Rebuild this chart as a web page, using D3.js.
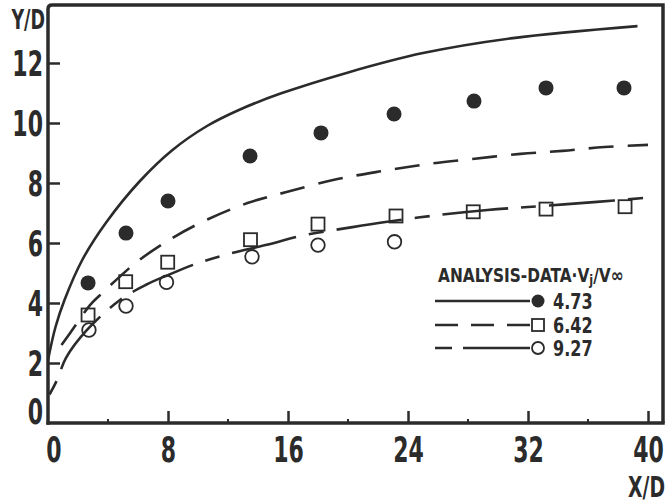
<!DOCTYPE html>
<html>
<head>
<meta charset="utf-8">
<script src="https://cdn.jsdelivr.net/npm/d3@7"></script>
<style>
  html, body { margin: 0; padding: 0; background: #fff; }
  svg { display: block; }
  .lbl { font-family: "Liberation Sans Narrow", "DejaVu Sans Condensed", "Arial Narrow", sans-serif; font-weight: bold; fill: #2b2b2b; }
</style>
</head>
<body>
<svg id="chart" width="671" height="504"></svg>
<script>
// ---- data ----
const xTicks = [0, 8, 16, 24, 32, 40];
const xMinorTicks = [4, 12, 20, 28, 36];
const yTicks = [0, 2, 4, 6, 8, 10, 12];
const xTitle = "X/D";
const yTitle = "Y/D";
const legendTitle = "ANALYSIS-DATA·V";
const seriesNames = ["4.73", "6.42", "9.27"];

// analysis curves
const curveA_x = [0, 0.5, 1.1, 2.3, 3.9, 6.1, 8.3, 10.6, 12.8, 15.5, 19.9, 25, 31, 39.3];
const curveA_y = [2.1, 3.2, 4.1, 5.45, 6.7, 8.05, 9.1, 9.9, 10.45, 10.98, 11.67, 12.33, 12.83, 13.23];

const curveB_x = [0.9, 1.8, 2.8, 3.7, 4.9, 6.0, 8.3, 10.7, 13.3, 15.9, 19.3, 22.3, 25.3, 28.3, 31.5, 34.3, 37.1, 40];
const curveB_y = [2.6, 3.23, 3.93, 4.37, 4.93, 5.4, 6.17, 6.8, 7.33, 7.7, 8.13, 8.4, 8.63, 8.8, 8.97, 9.07, 9.2, 9.27];

const curveC_x = [0.1, 0.6, 1.2, 2.6, 4.8, 6.5, 8, 10, 12, 14.5, 17, 20.3, 22.5, 26, 29.3, 32, 36.6, 39.7];
const curveC_y = [0.95, 1.43, 2.17, 3.1, 4.1, 4.6, 4.93, 5.33, 5.63, 5.93, 6.25, 6.53, 6.7, 6.93, 7.1, 7.2, 7.37, 7.5];

// measured data
const dataA_x = [2.67, 5.2, 8.0, 13.47, 18.2, 23.07, 28.4, 33.2, 38.4];
const dataA_y = [4.67, 6.33, 7.4, 8.9, 9.67, 10.3, 10.73, 11.17, 11.17];

const dataB_x = [2.67, 5.18, 7.98, 13.5, 18.0, 23.2, 28.35, 33.2, 38.47];
const dataB_y = [3.6, 4.71, 5.36, 6.11, 6.63, 6.9, 7.04, 7.13, 7.21];

const dataC_x = [2.73, 5.2, 7.9, 13.6, 18.0, 23.1];
const dataC_y = [3.1, 3.9, 4.69, 5.54, 5.93, 6.04];

// ---- drawing ----
(function () {
const svg = d3.select("#chart");
const ink = "#2b2b2b";
const pL = 48, pR = 663, pT = 5, pB = 423;

const x = d3.scaleLinear().domain([0, 41]).range([pL, pR]);
const y = d3.scaleLinear().domain([0, 13.933]).range([pB, pT]);

const zip = (xs, ys) => xs.map((v, i) => [v, ys[i]]);
const line = d3.line().x(d => x(d[0])).y(d => y(d[1])).curve(d3.curveCatmullRom.alpha(0.5));

// condense a text horizontally around its anchor point
function squeeze(sel, sx) {
  sel.each(function () {
    const t = d3.select(this);
    const tx = +t.attr("x") || 0, ty = +t.attr("y") || 0;
    t.attr("transform", `translate(${tx},${ty}) scale(${sx},1)`).attr("x", 0).attr("y", 0);
  });
}

// frame (top + right)
svg.append("path")
  .attr("d", `M${pL},${pT + 4} Q${pL},${pT} ${pL + 4},${pT} H${pR} V${pB}`)
  .attr("fill", "none").attr("stroke", ink).attr("stroke-width", 3.5);

// bottom axis
const gx = svg.append("g").attr("transform", `translate(0,${pB})`)
  .call(d3.axisBottom(x).tickValues(xTicks).tickSizeInner(-12).tickSizeOuter(0).tickPadding(13).tickFormat(d3.format("d")));
gx.select(".domain").attr("stroke", ink).attr("stroke-width", 3.5).attr("d", `M${pL - 1.5},0H${pR + 1.75}`);
gx.selectAll(".tick line").attr("stroke", ink).attr("stroke-width", 2.5);
gx.selectAll(".tick text").attr("class", "lbl").attr("font-size", 36).attr("dy", "0.71em")
  .attr("dx", d => d === 0 ? 8 : 0).call(squeeze, 0.68);

// minor x ticks
svg.append("g").selectAll("line").data(xMinorTicks).join("line")
  .attr("x1", d => x(d)).attr("x2", d => x(d))
  .attr("y1", pB).attr("y2", pB - 4)
  .attr("stroke", ink).attr("stroke-width", 2);

// left axis
const gy = svg.append("g").attr("transform", `translate(${pL},0)`)
  .call(d3.axisLeft(y).tickValues(yTicks).tickSizeInner(-12).tickSizeOuter(0).tickPadding(5).tickFormat(d3.format("d")));
gy.select(".domain").attr("stroke", ink).attr("stroke-width", 3.5).attr("d", `M0,${pT + 4}V${pB + 1.75}`);
gy.selectAll(".tick line").attr("stroke", ink).attr("stroke-width", 2.5);
gy.selectAll(".tick text").attr("class", "lbl").attr("font-size", 36)
  .attr("dy", d => d === 0 ? "0em" : "0.36em").call(squeeze, 0.68);
svg.selectAll(".tick line").filter(d => d === 0).remove();

// axis titles
svg.append("text").attr("class", "lbl").attr("x", 45).attr("y", 29)
  .attr("text-anchor", "end").attr("font-size", 27).text(yTitle).call(squeeze, 0.72);
svg.append("text").attr("class", "lbl").attr("x", 665).attr("y", 497)
  .attr("text-anchor", "end").attr("font-size", 29).text(xTitle).call(squeeze, 0.72);

// curves
const curveStyle = [
  { d: zip(curveA_x, curveA_y), dash: null },
  { d: zip(curveB_x, curveB_y), dash: "25,14" },
  { d: zip(curveC_x, curveC_y), dash: "15,13,66,13" }
];
svg.append("g").selectAll("path").data(curveStyle).join("path")
  .attr("d", c => line(c.d))
  .attr("fill", "none").attr("stroke", ink).attr("stroke-width", 2.6)
  .attr("stroke-dasharray", c => c.dash);

// markers
const mk = svg.append("g");
mk.selectAll("circle.fa").data(zip(dataA_x, dataA_y)).join("circle").attr("class", "fa")
  .attr("cx", d => x(d[0])).attr("cy", d => y(d[1])).attr("r", 7.5).attr("fill", ink);
mk.selectAll("rect.sb").data(zip(dataB_x, dataB_y)).join("rect").attr("class", "sb")
  .attr("x", d => x(d[0]) - 6.5).attr("y", d => y(d[1]) - 6.5).attr("width", 13).attr("height", 13)
  .attr("fill", "none").attr("stroke", ink).attr("stroke-width", 1.8);
mk.selectAll("circle.oc").data(zip(dataC_x, dataC_y)).join("circle").attr("class", "oc")
  .attr("cx", d => x(d[0])).attr("cy", d => y(d[1])).attr("r", 6.8)
  .attr("fill", "none").attr("stroke", ink).attr("stroke-width", 1.8);

// legend
const lg = svg.append("g");
const lt = lg.append("text").attr("class", "lbl").attr("x", 438).attr("y", 282).attr("font-size", 19);
lt.append("tspan").text(legendTitle);
lt.append("tspan").attr("font-size", 14).attr("dy", 3).text("j");
lt.append("tspan").attr("dy", -3).text("/V∞");
lt.call(squeeze, 0.9);

const rowsY = [301, 325, 348];
const legDash = [null, "23,13", "17,11,69,11"];
seriesNames.forEach((name, i) => {
  const ry = rowsY[i];
  lg.append("line").attr("x1", 435).attr("x2", 530).attr("y1", ry).attr("y2", ry)
    .attr("stroke", ink).attr("stroke-width", 2.6).attr("stroke-dasharray", legDash[i]);
  if (i === 0) lg.append("circle").attr("cx", 538).attr("cy", ry).attr("r", 6.5).attr("fill", ink);
  if (i === 1) lg.append("rect").attr("x", 532).attr("y", ry - 6).attr("width", 12).attr("height", 12)
    .attr("fill", "#fff").attr("stroke", ink).attr("stroke-width", 1.8);
  if (i === 2) lg.append("circle").attr("cx", 538).attr("cy", ry).attr("r", 6)
    .attr("fill", "#fff").attr("stroke", ink).attr("stroke-width", 1.8);
  lg.append("text").attr("class", "lbl").attr("x", 553).attr("y", ry + 7.5).attr("font-size", 21)
    .text(name).call(squeeze, 0.85);
});
})();
</script>
</body>
</html>
